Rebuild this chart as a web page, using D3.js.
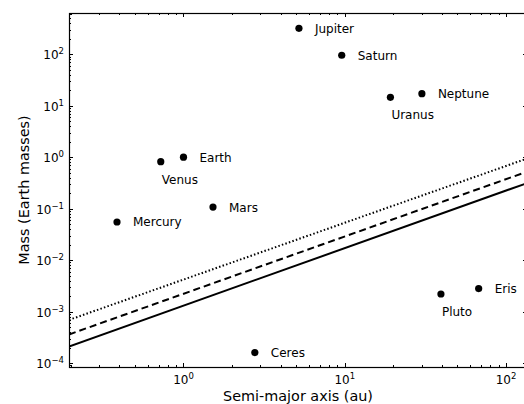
<!DOCTYPE html>
<html>
<head>
<meta charset="utf-8">
<script src="https://cdn.jsdelivr.net/npm/d3@7"></script>
<style>
  html, body { margin: 0; padding: 0; background: #fff; }
  svg { display: block; font-family: "DejaVu Sans", sans-serif; }
</style>
</head>
<body>
<svg id="chart" width="524" height="404"></svg>
<script>
// ---- data ----
const names = ["Mercury", "Venus", "Earth", "Mars", "Ceres", "Jupiter", "Saturn", "Uranus", "Neptune", "Pluto", "Eris"];
const semiMajor = [0.387, 0.723, 1.0, 1.524, 2.77, 5.20, 9.58, 19.2, 30.1, 39.5, 67.7];
const masses = [0.055, 0.815, 1.0, 0.107, 0.00016, 317.8, 95.2, 14.5, 17.1, 0.0022, 0.0028];
const labelBelow = ["Venus", "Uranus", "Pluto"];

const lineA = [0.195, 130];
const solidM = [2.1e-4, 0.30];
const dashedM = [3.6e-4, 0.50];
const dottedM = [6.9e-4, 0.90];

const xTicks = [1, 10, 100];
const xTickExp = ["0", "1", "2"];
const yTicks = [1e-4, 1e-3, 1e-2, 1e-1, 1, 10, 100];
const yTickExp = ["\u22124", "\u22123", "\u22122", "\u22121", "0", "1", "2"];

(function () {
// ---- layout ----
const L = 69, R = 527, T = 13, B = 367;
const svg = d3.select("#chart");

const x = d3.scaleLog().domain([0.195, 135]).range([L, R]);
const y = d3.scaleLog().domain([8.4e-5, 630]).range([B, T]);

svg.append("defs").append("clipPath").attr("id", "clip")
  .append("rect").attr("x", L).attr("y", T).attr("width", R - L).attr("height", B - T);

const g = svg.append("g").attr("clip-path", "url(#clip)");

// lines
const lineGen = d3.line().x(d => x(d[0])).y(d => y(d[1]));
const series = [
  { m: solidM, dash: null },
  { m: dashedM, dash: "7,4" },
  { m: dottedM, dash: "1.5,2.2" }
];
series.forEach(s => {
  g.append("path")
    .datum(lineA.map((a, i) => [a, s.m[i]]))
    .attr("d", lineGen)
    .attr("fill", "none")
    .attr("stroke", "#000")
    .attr("stroke-width", 2)
    .attr("stroke-dasharray", s.dash);
});

// points
const pts = names.map((n, i) => ({ name: n, a: semiMajor[i], m: masses[i] }));
g.selectAll("circle").data(pts).enter().append("circle")
  .attr("cx", d => x(d.a)).attr("cy", d => y(d.m)).attr("r", 3.6).attr("fill", "#000");

svg.selectAll("text.lbl").data(pts).enter().append("text")
  .attr("class", "lbl")
  .attr("x", d => labelBelow.includes(d.name) ? x(d.a) + 1 : x(d.a) + 16)
  .attr("y", d => labelBelow.includes(d.name) ? y(d.m) + 22 : y(d.m) + 4.5)
  .attr("font-size", 12)
  .attr("fill", "#000")
  .text(d => d.name);

// ticks (inward, all sides)
const ax = svg.append("g").attr("stroke", "#000").attr("stroke-width", 1);
function tickVals(scale) {
  const [d0, d1] = scale.domain();
  const out = [];
  for (let e = Math.floor(Math.log10(d0)); e <= Math.ceil(Math.log10(d1)); e++) {
    for (let k = 1; k <= 9; k++) {
      const v = k * Math.pow(10, e);
      if (v >= d0 && v <= d1) out.push({ v, major: k === 1 });
    }
  }
  return out;
}
tickVals(x).forEach(t => {
  const px = Math.round(x(t.v)) + 0.5;
  const len = t.major ? 4 : 2;
  ax.append("line").attr("x1", px).attr("x2", px).attr("y1", B).attr("y2", B - len);
  ax.append("line").attr("x1", px).attr("x2", px).attr("y1", T).attr("y2", T + len);
});
tickVals(y).forEach(t => {
  const py = Math.round(y(t.v)) + 0.5;
  const len = t.major ? 4 : 2;
  ax.append("line").attr("y1", py).attr("y2", py).attr("x1", L).attr("x2", L + len);
  ax.append("line").attr("y1", py).attr("y2", py).attr("x1", R).attr("x2", R - len);
});

// frame
svg.append("rect").attr("x", L + 0.5).attr("y", T + 0.5)
  .attr("width", R - L).attr("height", B - T)
  .attr("fill", "none").attr("stroke", "#000").attr("stroke-width", 1.2);

// tick labels
xTicks.forEach((v, i) => {
  const t = svg.append("text").attr("x", x(v)).attr("y", B + 17)
    .attr("text-anchor", "middle").attr("font-size", 12);
  t.append("tspan").text("10");
  t.append("tspan").attr("dy", -5).attr("font-size", 8.5).text(xTickExp[i]);
});
yTicks.forEach((v, i) => {
  const t = svg.append("text").attr("x", L - 5).attr("y", y(v) + 5)
    .attr("text-anchor", "end").attr("font-size", 12);
  t.append("tspan").text("10");
  t.append("tspan").attr("dy", -5).attr("font-size", 8.5).text(yTickExp[i]);
});

// axis labels
svg.append("text").attr("x", (L + R) / 2).attr("y", 401)
  .attr("text-anchor", "middle").attr("font-size", 14.4).text("Semi-major axis (au)");
svg.append("text").attr("transform", `translate(29,${(T + B) / 2}) rotate(-90)`)
  .attr("text-anchor", "middle").attr("font-size", 14.4).text("Mass (Earth masses)");
})();
</script>
</body>
</html>
